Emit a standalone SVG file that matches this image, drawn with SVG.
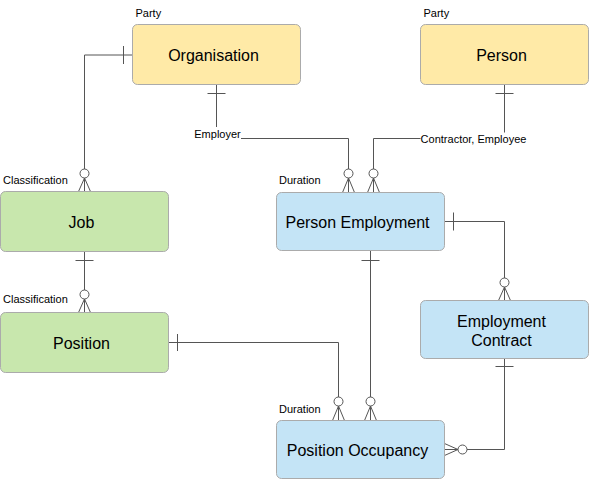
<svg xmlns="http://www.w3.org/2000/svg" width="589" height="479" viewBox="0 0 589 479">
<style>
.box{stroke:#ababab;stroke-width:1}
.y{fill:#ffeaa7}
.g{fill:#c8e7ad}
.b{fill:#c4e4f6}
.t{font-family:"Liberation Sans",Arial,sans-serif;font-size:16px;fill:#000;text-anchor:middle;dominant-baseline:central}
.s{font-family:"Liberation Sans",Arial,sans-serif;font-size:11px;fill:#000;dominant-baseline:central}
.ln{fill:none;stroke:#555;stroke-width:1}
.c{fill:#fff;stroke:#555;stroke-width:1}
</style>
<rect width="589" height="479" fill="#fff"/>
<g id="connectors">
  <!-- Organisation -> Job -->
  <path class="ln" d="M132.5,55 H84.5 V169"/>
  <path class="ln" d="M123.5,46 V64"/>
  <circle class="c" cx="84.5" cy="173.5" r="4.5"/>
  <path class="ln" d="M78.5,191.5 L84.5,178 L90.5,191.5 M84.5,178 V191.5"/>
  <!-- Organisation -> Person Employment (Employer) -->
  <path class="ln" d="M216.5,84.5 V138.5 H348.5 V169"/>
  <path class="ln" d="M207.5,93.5 H225.5"/>
  <circle class="c" cx="348.5" cy="173.5" r="4.5"/>
  <path class="ln" d="M342.5,192.5 L348.5,178 L354.5,192.5 M348.5,178 V192.5"/>
  <!-- Person -> Person Employment (Contractor, Employee) -->
  <path class="ln" d="M504.5,84.5 V138.5 H373.5 V169"/>
  <path class="ln" d="M495.5,93.5 H513.5"/>
  <circle class="c" cx="373.5" cy="173.5" r="4.5"/>
  <path class="ln" d="M367.5,192.5 L373.5,178 L379.5,192.5 M373.5,178 V192.5"/>
  <!-- Job -> Position -->
  <path class="ln" d="M84.5,251.5 V290"/>
  <path class="ln" d="M75.5,260.5 H93.5"/>
  <circle class="c" cx="84.5" cy="294.5" r="4.5"/>
  <path class="ln" d="M78.5,312.5 L84.5,299 L90.5,312.5 M84.5,299 V312.5"/>
  <!-- Position -> Position Occupancy -->
  <path class="ln" d="M168.5,342.5 H338.5 V397"/>
  <path class="ln" d="M177.5,334 V351"/>
  <circle class="c" cx="338.5" cy="401.5" r="4.5"/>
  <path class="ln" d="M332.5,420.5 L338.5,406 L344.5,420.5 M338.5,406 V420.5"/>
  <!-- Person Employment -> Position Occupancy -->
  <path class="ln" d="M370.5,250.5 V397"/>
  <path class="ln" d="M361.5,260.5 H379.5"/>
  <circle class="c" cx="370.5" cy="401.5" r="4.5"/>
  <path class="ln" d="M364.5,420.5 L370.5,406 L376.5,420.5 M370.5,406 V420.5"/>
  <!-- Person Employment -> Employment Contract -->
  <path class="ln" d="M444.5,221.5 H504.5 V278"/>
  <path class="ln" d="M453.5,212.5 V230.5"/>
  <circle class="c" cx="504.5" cy="282.5" r="4.5"/>
  <path class="ln" d="M498.5,300.5 L504.5,287 L510.5,300.5 M504.5,287 V300.5"/>
  <!-- Employment Contract -> Position Occupancy -->
  <path class="ln" d="M504.5,358.5 V449.5 H467"/>
  <path class="ln" d="M495.5,366.5 H513.5"/>
  <circle class="c" cx="462.5" cy="449.5" r="4.5"/>
  <path class="ln" d="M444.5,443.5 L458,449.5 L444.5,455.5 M458,449.5 H444.5"/>
  <!-- edge labels -->
  <rect x="194" y="127" width="47" height="14" fill="#fff"/>
  <text class="s" x="217.5" y="134" text-anchor="middle">Employer</text>
  <rect x="420.5" y="132.5" width="106" height="13" fill="#fff"/>
  <text class="s" x="473.5" y="139" text-anchor="middle">Contractor, Employee</text>
</g>
<g id="organisation">
  <rect class="box y" x="132.5" y="24.5" width="168" height="60" rx="5"/>
  <text class="t" x="213.5" y="55">Organisation</text>
  <text class="s" x="135.5" y="12.5">Party</text>
</g>
<g id="person">
  <rect class="box y" x="420.5" y="24.5" width="168" height="60" rx="5"/>
  <text class="t" x="501.5" y="55">Person</text>
  <text class="s" x="423.5" y="12.5">Party</text>
</g>
<g id="job">
  <rect class="box g" x="0.5" y="191.5" width="168" height="60" rx="5"/>
  <text class="t" x="81.5" y="222">Job</text>
  <text class="s" x="3" y="179.5">Classification</text>
</g>
<g id="position">
  <rect class="box g" x="0.5" y="312.5" width="168" height="60" rx="5"/>
  <text class="t" x="81.5" y="343">Position</text>
  <text class="s" x="3" y="299">Classification</text>
</g>
<g id="person-employment">
  <rect class="box b" x="276.5" y="192.5" width="168" height="58" rx="5"/>
  <text class="t" x="357.5" y="222">Person Employment</text>
  <text class="s" x="279" y="180">Duration</text>
</g>
<g id="employment-contract">
  <rect class="box b" x="420.5" y="300.5" width="168" height="58" rx="5"/>
  <text class="t" x="501.5" y="321.5">Employment</text>
  <text class="t" x="501.5" y="340.5">Contract</text>
</g>
<g id="position-occupancy">
  <rect class="box b" x="276.5" y="420.5" width="168" height="58" rx="5"/>
  <text class="t" x="357.5" y="450.5">Position Occupancy</text>
  <text class="s" x="279" y="408.5">Duration</text>
</g>
</svg>
